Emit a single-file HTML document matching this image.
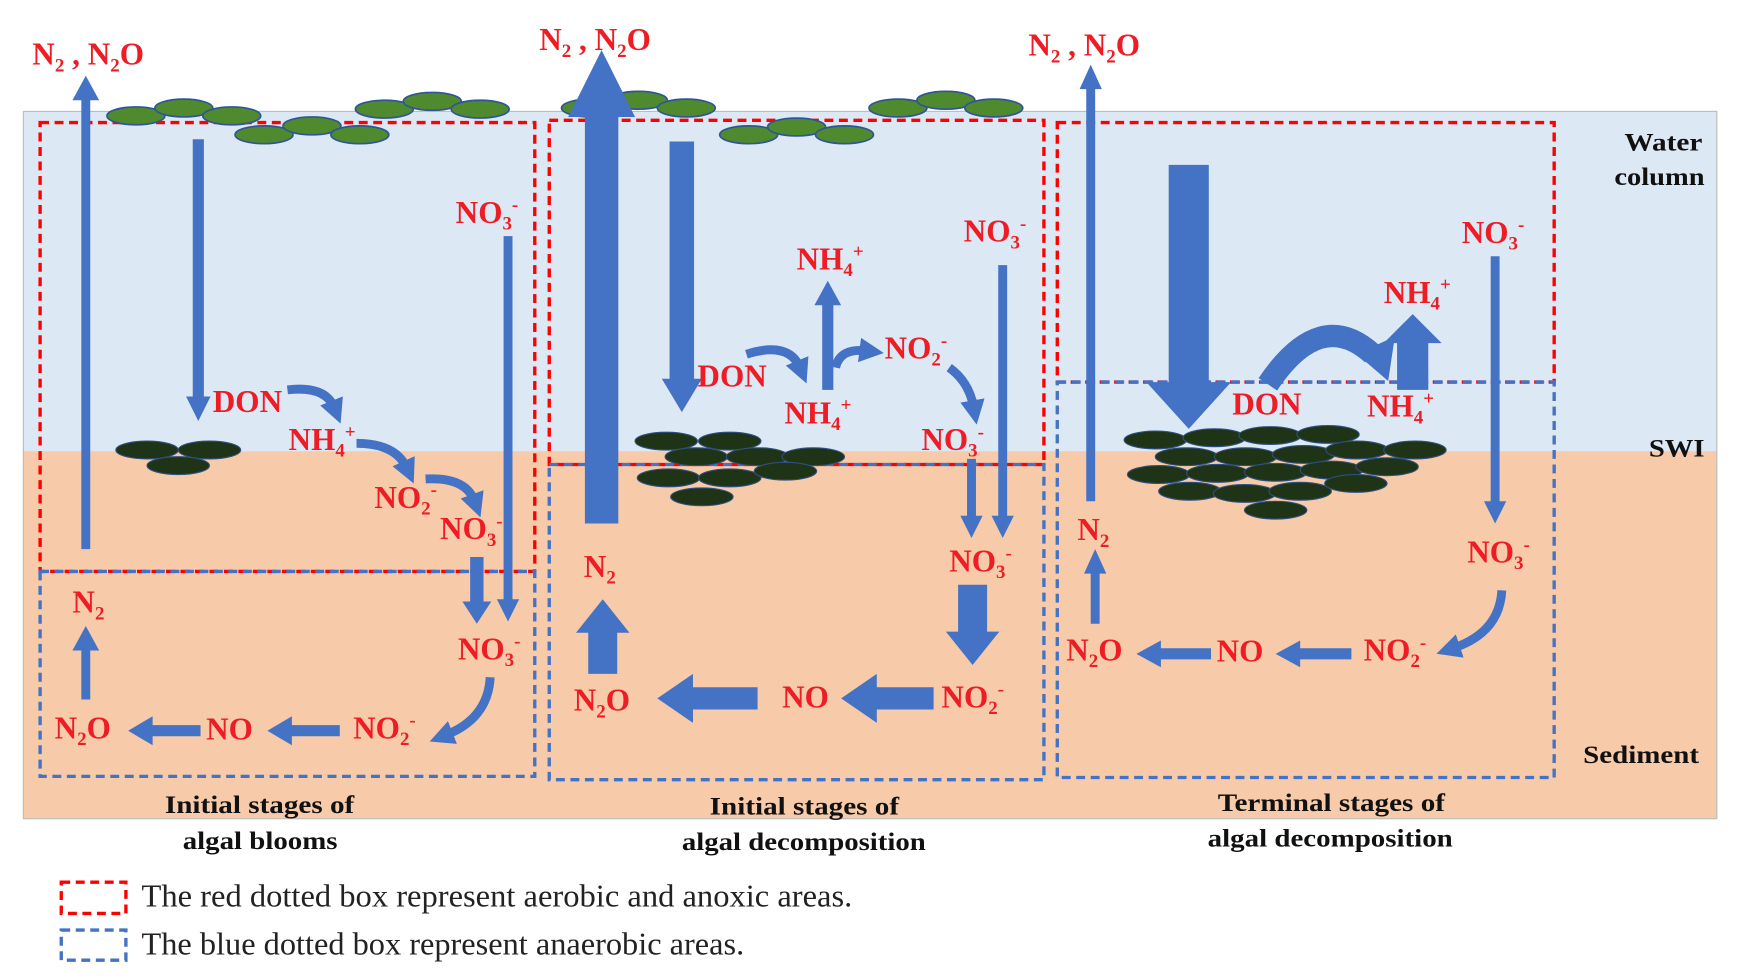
<!DOCTYPE html>
<html><head><meta charset="utf-8"><style>
html,body{margin:0;padding:0;background:#fff;width:1738px;height:978px;overflow:hidden}
svg{display:block}
.r{fill:#ee1c25;font-family:"Liberation Serif",serif;font-weight:bold;font-size:28px}
.r tspan.s{font-size:17px}
.k{fill:#111;font-family:"Liberation Serif",serif;font-weight:bold;font-size:23px}
.l{fill:#222;font-family:"Liberation Serif",serif;font-size:28px}
.b{fill:#4472c4}
.c{fill:none;stroke:#4472c4;stroke-width:8;marker-end:url(#m)}
.g{fill:#4f8a2e;stroke:#2f5597;stroke-width:1.5}
.d{fill:#1f3317;stroke:#2f4f80;stroke-width:1}
.rb{fill:none;stroke:#ff0000;stroke-width:3;stroke-dasharray:8,5}
.bb{fill:none;stroke:#4472c4;stroke-width:3;stroke-dasharray:8,5}
</style></head><body>
<svg width="1738" height="978" viewBox="0 0 1560 878" preserveAspectRatio="none" xmlns="http://www.w3.org/2000/svg">
<defs><marker id="m" markerUnits="userSpaceOnUse" markerWidth="22" markerHeight="22" viewBox="0 0 10 10" refX="3" refY="5" orient="auto"><path d="M0,0 L10,5 L0,10 z" fill="#4472c4"/></marker></defs>
<rect x="21" y="100" width="1520" height="305" fill="#dde8f5"/>
<rect x="21" y="405" width="1520" height="330" fill="#f7cba9"/>
<rect x="21" y="100" width="1520" height="635" fill="none" stroke="#bbb" stroke-width="1"/>

<rect class="rb" x="36" y="110" width="444" height="403"/>
<rect class="bb" x="36" y="513" width="444" height="184"/>
<rect class="rb" x="493" y="108" width="444" height="309"/>
<rect class="bb" x="493" y="417" width="444" height="283"/>
<rect class="rb" x="949" y="110" width="446" height="233"/>
<rect class="bb" x="949" y="343" width="446" height="355"/>

<ellipse class="g" cx="122" cy="104" rx="26" ry="8"/><ellipse class="g" cx="165" cy="97" rx="26" ry="8"/><ellipse class="g" cx="208" cy="104" rx="26" ry="8"/>
<ellipse class="g" cx="237" cy="121" rx="26" ry="8"/><ellipse class="g" cx="280" cy="113" rx="26" ry="8"/><ellipse class="g" cx="323" cy="121" rx="26" ry="8"/>
<ellipse class="g" cx="345" cy="98" rx="26" ry="8"/><ellipse class="g" cx="388" cy="91" rx="26" ry="8"/><ellipse class="g" cx="431" cy="98" rx="26" ry="8"/>
<ellipse class="g" cx="530" cy="97" rx="26" ry="8"/><ellipse class="g" cx="573" cy="90" rx="26" ry="8"/><ellipse class="g" cx="616" cy="97" rx="26" ry="8"/>
<ellipse class="g" cx="672" cy="121" rx="26" ry="8"/><ellipse class="g" cx="715" cy="114" rx="26" ry="8"/><ellipse class="g" cx="758" cy="121" rx="26" ry="8"/>
<ellipse class="g" cx="806" cy="97" rx="26" ry="8"/><ellipse class="g" cx="849" cy="90" rx="26" ry="8"/><ellipse class="g" cx="892" cy="97" rx="26" ry="8"/>

<ellipse class="d" cx="132" cy="404" rx="28" ry="8"/><ellipse class="d" cx="188" cy="404" rx="28" ry="8"/><ellipse class="d" cx="160" cy="418" rx="28" ry="8"/>
<ellipse class="d" cx="598" cy="396" rx="28" ry="8"/><ellipse class="d" cx="655" cy="396" rx="28" ry="8"/>
<ellipse class="d" cx="625" cy="410" rx="28" ry="8"/><ellipse class="d" cx="680" cy="410" rx="28" ry="8"/><ellipse class="d" cx="730" cy="410" rx="28" ry="8"/>
<ellipse class="d" cx="600" cy="429" rx="28" ry="8"/><ellipse class="d" cx="655" cy="429" rx="28" ry="8"/><ellipse class="d" cx="705" cy="423" rx="28" ry="8"/>
<ellipse class="d" cx="630" cy="446" rx="28" ry="8"/>
<ellipse class="d" cx="1037" cy="395" rx="28" ry="8"/><ellipse class="d" cx="1090" cy="393" rx="28" ry="8"/><ellipse class="d" cx="1140" cy="391" rx="28" ry="8"/><ellipse class="d" cx="1192" cy="390" rx="28" ry="8"/>
<ellipse class="d" cx="1065" cy="410" rx="28" ry="8"/><ellipse class="d" cx="1118" cy="410" rx="28" ry="8"/><ellipse class="d" cx="1170" cy="408" rx="28" ry="8"/><ellipse class="d" cx="1218" cy="404" rx="28" ry="8"/><ellipse class="d" cx="1270" cy="404" rx="28" ry="8"/>
<ellipse class="d" cx="1040" cy="426" rx="28" ry="8"/><ellipse class="d" cx="1093" cy="425" rx="28" ry="8"/><ellipse class="d" cx="1145" cy="424" rx="28" ry="8"/><ellipse class="d" cx="1195" cy="422" rx="28" ry="8"/><ellipse class="d" cx="1245" cy="419" rx="28" ry="8"/>
<ellipse class="d" cx="1068" cy="441" rx="28" ry="8"/><ellipse class="d" cx="1117" cy="443" rx="28" ry="8"/><ellipse class="d" cx="1167" cy="441" rx="28" ry="8"/><ellipse class="d" cx="1217" cy="434" rx="28" ry="8"/>
<ellipse class="d" cx="1145" cy="458" rx="28" ry="8"/>

<polygon class="b" points="73,493 81,493 81,90 89,90 77,68 65,90 73,90"/>
<polygon class="b" points="173,125 183,125 183,356 189,356 178,378 167,356 173,356"/>
<polygon class="b" points="452,212 460,212 460,538 466,538 456,558 446,538 452,538"/>
<polygon class="b" points="422,500 434,500 434,540 441,540 428,560 415,540 422,540"/>
<polygon class="b" points="305,651 305,661 262,661 262,669 240,656 262,643 262,651"/>
<polygon class="b" points="180,651 180,661 137,661 137,669 115,656 137,643 137,651"/>
<polygon class="b" points="73,628 81,628 81,584 89,584 77,562 65,584 73,584"/>

<polygon class="b" points="525,470 555,470 555,105 570,105 540,45 510,105 525,105"/>
<polygon class="b" points="601,127 623,127 623,340 630,340 612,370 594,340 601,340"/>
<polygon class="b" points="738,350 748,350 748,274 755,274 743,252 731,274 738,274"/>
<polygon class="b" points="896,238 904,238 904,463 910,463 900,483 890,463 896,463"/>
<polygon class="b" points="868,412 876,412 876,463 882,463 872,483 862,463 868,463"/>
<polygon class="b" points="860,525 886,525 886,567 897,567 873,597 849,567 860,567"/>
<polygon class="b" points="838,617 838,637 787,637 787,649 755,627 787,605 787,617"/>
<polygon class="b" points="680,617 680,637 622,637 622,649 590,627 622,605 622,617"/>
<polygon class="b" points="528,605 554,605 554,568 565,568 541,538 517,568 528,568"/>

<polygon class="b" points="975,450 983,450 983,80 989,80 979,58 969,80 975,80"/>
<polygon class="b" points="1049,148 1085,148 1085,343 1105,343 1067,385 1029,343 1049,343"/>
<polygon class="b" points="1254,350 1282,350 1282,308 1294,308 1268,282 1242,308 1254,308"/>
<path d="M1138,345 Q1185,275 1232,318" fill="none" stroke="#4472c4" stroke-width="20"/>
<polygon class="b" points="1218,318 1252,302 1246,342"/>
<polygon class="b" points="1338,230 1346,230 1346,450 1352,450 1342,470 1332,450 1338,450"/>
<polygon class="b" points="1213,582 1213,592 1167,592 1167,599 1145,587 1167,575 1167,582"/>
<polygon class="b" points="1087,582 1087,592 1042,592 1042,599 1020,587 1042,575 1042,582"/>
<polygon class="b" points="979,560 987,560 987,515 993,515 983,493 973,515 979,515"/>

<path class="c" d="M258,350 Q292,346 300,366"/>
<path class="c" d="M320,398 Q355,398 365,420"/>
<path class="c" d="M382,430 Q418,428 426,450"/>
<path class="c" d="M440,608 Q438,645 400,660"/>
<path class="c" d="M670,318 Q708,306 718,330"/>
<path class="c" d="M750,330 Q754,312 778,315"/>
<path class="c" d="M852,330 Q870,343 874,366"/>
<path class="c" d="M1348,530 Q1346,568 1304,582"/>

<text class="r" x="29" y="58">N<tspan class="s" dy="6">2</tspan><tspan dy="-6"> , N</tspan><tspan class="s" dy="6">2</tspan><tspan dy="-6">O</tspan></text>
<text class="r" x="484" y="45">N<tspan class="s" dy="6">2</tspan><tspan dy="-6"> , N</tspan><tspan class="s" dy="6">2</tspan><tspan dy="-6">O</tspan></text>
<text class="r" x="923" y="50">N<tspan class="s" dy="6">2</tspan><tspan dy="-6"> , N</tspan><tspan class="s" dy="6">2</tspan><tspan dy="-6">O</tspan></text>

<text class="r" x="191" y="370">DON</text>
<text class="r" x="259" y="404">NH<tspan class="s" dy="6">4</tspan><tspan class="s" dy="-17">+</tspan></text>
<text class="r" x="336" y="456">NO<tspan class="s" dy="6">2</tspan><tspan class="s" dy="-17">-</tspan></text>
<text class="r" x="395" y="484">NO<tspan class="s" dy="6">3</tspan><tspan class="s" dy="-17">-</tspan></text>
<text class="r" x="409" y="200">NO<tspan class="s" dy="6">3</tspan><tspan class="s" dy="-17">-</tspan></text>
<text class="r" x="411" y="592">NO<tspan class="s" dy="6">3</tspan><tspan class="s" dy="-17">-</tspan></text>
<text class="r" x="317" y="663">NO<tspan class="s" dy="6">2</tspan><tspan class="s" dy="-17">-</tspan></text>
<text class="r" x="185" y="664">NO</text>
<text class="r" x="49" y="663">N<tspan class="s" dy="6">2</tspan><tspan dy="-6">O</tspan></text>
<text class="r" x="65" y="550">N<tspan class="s" dy="6">2</tspan></text>

<text class="r" x="626" y="347">DON</text>
<text class="r" x="704" y="380">NH<tspan class="s" dy="6">4</tspan><tspan class="s" dy="-17">+</tspan></text>
<text class="r" x="715" y="242">NH<tspan class="s" dy="6">4</tspan><tspan class="s" dy="-17">+</tspan></text>
<text class="r" x="794" y="322">NO<tspan class="s" dy="6">2</tspan><tspan class="s" dy="-17">-</tspan></text>
<text class="r" x="827" y="404">NO<tspan class="s" dy="6">3</tspan><tspan class="s" dy="-17">-</tspan></text>
<text class="r" x="865" y="217">NO<tspan class="s" dy="6">3</tspan><tspan class="s" dy="-17">-</tspan></text>
<text class="r" x="852" y="513">NO<tspan class="s" dy="6">3</tspan><tspan class="s" dy="-17">-</tspan></text>
<text class="r" x="845" y="635">NO<tspan class="s" dy="6">2</tspan><tspan class="s" dy="-17">-</tspan></text>
<text class="r" x="702" y="635">NO</text>
<text class="r" x="515" y="638">N<tspan class="s" dy="6">2</tspan><tspan dy="-6">O</tspan></text>
<text class="r" x="524" y="518">N<tspan class="s" dy="6">2</tspan></text>

<text class="r" x="1106" y="372">DON</text>
<text class="r" x="1227" y="374">NH<tspan class="s" dy="6">4</tspan><tspan class="s" dy="-17">+</tspan></text>
<text class="r" x="1242" y="272">NH<tspan class="s" dy="6">4</tspan><tspan class="s" dy="-17">+</tspan></text>
<text class="r" x="1312" y="218">NO<tspan class="s" dy="6">3</tspan><tspan class="s" dy="-17">-</tspan></text>
<text class="r" x="1317" y="505">NO<tspan class="s" dy="6">3</tspan><tspan class="s" dy="-17">-</tspan></text>
<text class="r" x="1224" y="593">NO<tspan class="s" dy="6">2</tspan><tspan class="s" dy="-17">-</tspan></text>
<text class="r" x="1092" y="594">NO</text>
<text class="r" x="957" y="593">N<tspan class="s" dy="6">2</tspan><tspan dy="-6">O</tspan></text>
<text class="r" x="967" y="485">N<tspan class="s" dy="6">2</tspan></text>

<text class="k" x="1458" y="135" textLength="70" lengthAdjust="spacingAndGlyphs">Water</text>
<text class="k" x="1449" y="166" textLength="81" lengthAdjust="spacingAndGlyphs">column</text>
<text class="k" x="1480" y="410" textLength="50" lengthAdjust="spacingAndGlyphs">SWI</text>
<text class="k" x="1421" y="685" textLength="104" lengthAdjust="spacingAndGlyphs">Sediment</text>
<text class="k" x="148" y="730" textLength="170" lengthAdjust="spacingAndGlyphs">Initial stages of</text>
<text class="k" x="164" y="762" textLength="139" lengthAdjust="spacingAndGlyphs">algal blooms</text>
<text class="k" x="637" y="731" textLength="170" lengthAdjust="spacingAndGlyphs">Initial stages of</text>
<text class="k" x="612" y="763" textLength="219" lengthAdjust="spacingAndGlyphs">algal decomposition</text>
<text class="k" x="1093" y="728" textLength="204" lengthAdjust="spacingAndGlyphs">Terminal stages of</text>
<text class="k" x="1084" y="760" textLength="220" lengthAdjust="spacingAndGlyphs">algal decomposition</text>

<rect class="rb" x="55" y="792" width="58" height="28"/>
<text class="l" x="127" y="814" textLength="638" lengthAdjust="spacingAndGlyphs">The red dotted box represent aerobic and anoxic areas.</text>
<rect class="bb" x="55" y="835" width="58" height="27"/>
<text class="l" x="127" y="857" textLength="541" lengthAdjust="spacingAndGlyphs">The blue dotted box represent anaerobic areas.</text>
</svg>
</body></html>
